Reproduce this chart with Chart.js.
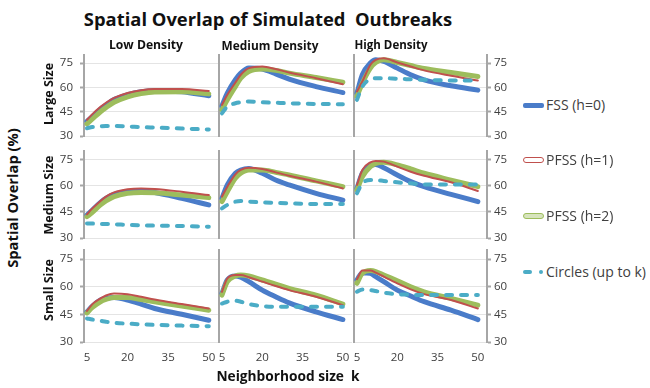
<!DOCTYPE html>
<html>
<head>
<meta charset="utf-8">
<script src="https://cdn.jsdelivr.net/npm/chart.js@4.4.1/dist/chart.umd.min.js"></script>
<style>
  body { margin: 0; background: #fff; }
  #wrap { position: relative; width: 650px; height: 388px; overflow: hidden; font-family: 'Open Sans', sans-serif; }
  #wrap canvas { position: absolute; }
  .txt { position: absolute; white-space: pre; line-height: 1.2; }
  .swatch { position: absolute; box-sizing: border-box; }
</style>
</head>
<body>
<div id="wrap"></div>
<script>
// neighborhood size k and ticks
const kValues = [5, 7, 10, 12, 15, 20, 25, 30, 40, 50];
const xTicks = [5, 20, 35, 50];
const yTicks = [30, 45, 60, 75];
const densities = ['Low Density', 'Medium Density', 'High Density'];
const sizes = ['Large Size', 'Medium Size', 'Small Size'];
const seriesNames = ['FSS (h=0)', 'PFSS (h=1)', 'PFSS (h=2)', 'Circles (up to k)'];

// each array: [low, medium, high density]
const fssLarge = [
  [39, 42, 46.5, 49, 52.5, 55.5, 57.3, 58, 57.3, 54.8],
  [48.6, 56.4, 64.7, 68.8, 71.9, 71.3, 68.4, 65.1, 60.5, 56.8],
  [56.4, 67.8, 75, 77, 76, 71.9, 67.8, 64.7, 61, 58.3]
];
const pfss1Large = [
  [40, 43.5, 48, 50.5, 53.5, 56.5, 58.3, 59, 59, 57.8],
  [49.2, 55.4, 63, 67.8, 71.9, 72.9, 71.3, 69.2, 65.7, 62],
  [57.5, 63.6, 74, 77, 78, 75.4, 72.9, 70.5, 67.2, 64.3]
];
const pfss2Large = [
  [37.5, 40.5, 45, 47.5, 50.8, 54.2, 56.2, 57.2, 57.3, 56],
  [46.1, 52.3, 60.5, 65.7, 69.8, 71.3, 70.5, 68.8, 66.1, 63.2],
  [54.4, 62.6, 71.9, 75.4, 77, 75.4, 73.5, 71.7, 69.2, 66.7]
];
const circlesLarge = [
  [34.8, 35.5, 36, 36.2, 36.2, 35.9, 35.5, 35.2, 34.6, 34],
  [44, 48.2, 50.2, 50.8, 51.3, 50.8, 50.5, 50.2, 49.8, 49.6],
  [52.3, 60.5, 65.1, 65.7, 65.7, 65.3, 65, 64.7, 64.3, 64.3]
];

const fssMedium = [
  [43.2, 46.1, 50.5, 52.8, 55.1, 56.6, 57, 56.2, 52.8, 49],
  [52.8, 60.5, 67.2, 69.1, 70, 67.2, 63.3, 60.5, 55.7, 51.8],
  [58.5, 67.2, 71.6, 72.3, 70.4, 66.2, 62.4, 59.5, 55.1, 50.9]
];
const pfss1Medium = [
  [43.6, 47, 51.3, 53.8, 56.2, 58, 58.5, 58.2, 56.6, 54.7],
  [53.8, 59.5, 66.6, 69.1, 70.4, 69.7, 67.7, 65.8, 62.4, 58.5],
  [60.5, 69.1, 73.5, 74.3, 73.9, 71, 68.1, 65.8, 62, 57]
];
const pfss2Medium = [
  [42.3, 44.8, 49, 51.3, 53.8, 55.7, 56.2, 56, 54.7, 53.2],
  [50.9, 56.6, 64.3, 67.2, 69.1, 69.1, 67.7, 66.2, 62.8, 59.5],
  [57.6, 65.2, 71, 72.9, 73.5, 72, 69.7, 67.2, 63.3, 59.5]
];
const circlesMedium = [
  [38.4, 38.3, 38, 38, 37.9, 37.5, 37.3, 37.1, 36.9, 36.5],
  [47, 49, 50.9, 51.3, 50.9, 50.5, 50.2, 49.9, 49.5, 49.5],
  [55.7, 61.4, 63.3, 63.3, 62.8, 62, 61.4, 60.8, 60.8, 60.8]
];

const fssSmall = [
  [46.4, 49.5, 52.8, 53.7, 54.2, 52.8, 50.6, 48.2, 45.1, 41.8],
  [56.4, 63.7, 65.9, 65.2, 62.8, 58.2, 54.6, 51.3, 46.4, 42.2],
  [63.7, 67.7, 67.3, 65.5, 62.8, 58.2, 55, 51.9, 47.3, 42.2]
];
const pfss1Small = [
  [46.9, 50.6, 53.7, 55.3, 56.4, 56, 54.6, 53.1, 50.6, 48.2],
  [57.3, 64.6, 66.4, 66.4, 65.2, 62.8, 60.4, 58.2, 54.6, 50],
  [64.1, 68.8, 68.8, 67.7, 65.5, 61.9, 58.6, 56, 52.8, 48.2]
];
const pfss2Small = [
  [45.8, 48.8, 51.9, 53.1, 54.2, 54.2, 53.1, 51.9, 49.5, 47.3],
  [55.5, 62.8, 65.9, 66.4, 65.9, 63.7, 61.5, 59.1, 55.5, 50.6],
  [61.9, 67.3, 68.8, 68.3, 66.4, 63.3, 60, 57.3, 53.7, 50]
];
const circlesSmall = [
  [42.8, 42.2, 41.5, 41, 40.4, 40, 39.6, 39.3, 38.9, 38.6],
  [50.9, 51.9, 52.4, 51.9, 50.6, 49.5, 49.1, 49.1, 49.1, 49.1],
  [57.3, 58.6, 58.2, 57.7, 56.8, 56, 55.7, 55.5, 55.5, 55.5]
];

const rowsData = [
  [fssLarge, pfss1Large, pfss2Large, circlesLarge],
  [fssMedium, pfss1Medium, pfss2Medium, circlesMedium],
  [fssSmall, pfss1Small, pfss2Small, circlesSmall]
];

// styles
const colors = ['#4A7CC9', '#C0504D', '#9DBD5C', '#4BACC6'];
const widths = [5, 2, 5, 4];
const orders = [4, 2, 3, 1];
const axisGray = '#a6a6a6';
const gridGray = '#e4e4e4';
const tickColor = '#404040';

// panel geometry (plot area in page pixels)
const colLeft = [84, 219, 354];
const colWidth = [134, 133, 133];
const rowTop = [55, 151, 250];
const rowHeight = [81, 87, 92];

Chart.defaults.font.family = "'Open Sans', sans-serif";
Chart.defaults.font.size = 11.5;
Chart.defaults.color = tickColor;

const wrap = document.getElementById('wrap');
const setTicks = (vals) => (axis) => { axis.ticks = vals.map(v => ({ value: v })); };
const noPad = (s) => { s.paddingLeft = 0; s.paddingRight = 0; s.paddingTop = 0; s.paddingBottom = 0; };

for (let r = 0; r < 3; r++) {
  for (let c = 0; c < 3; c++) {
    const leftW = c === 0 ? 30 : 1;
    const rightW = c === 2 ? 26 : 0;
    const padTop = 8;
    const bottomH = r === 2 ? 28 : 8;
    const cv = document.createElement('canvas');
    cv.width = leftW + colWidth[c] + rightW;
    cv.height = padTop + rowHeight[r] + bottomH;
    cv.style.left = (colLeft[c] - leftW) + 'px';
    cv.style.top = (rowTop[r] - padTop) + 'px';
    wrap.appendChild(cv);

    const datasets = rowsData[r].map((series, s) => ({
      label: seriesNames[s],
      data: kValues.map((k, i) => ({ x: k, y: series[c][i] })),
      borderColor: colors[s],
      borderWidth: widths[s],
      borderDash: s === 3 ? [6, 9] : [],
      borderCapStyle: 'round',
      borderJoinStyle: 'round',
      cubicInterpolationMode: 'monotone',
      pointRadius: 0,
      order: orders[s]
    }));

    const scales = {
      x: {
        type: 'linear', min: 3.9, max: 53.4,
        display: r === 2,
        afterBuildTicks: setTicks(xTicks),
        grid: { display: false, drawTicks: false },
        border: { display: false },
        ticks: { autoSkip: false, maxRotation: 0, padding: 9 },
        afterFit: (s) => { s.height = r === 2 ? 28 : 0; noPad(s); }
      },
      y: {
        type: 'linear', min: 30, max: 80,
        afterBuildTicks: setTicks(yTicks),
        grid: { color: gridGray, lineWidth: 1, drawTicks: c === 0, tickLength: 4, tickColor: axisGray, tickWidth: 2 },
        border: { color: axisGray, width: 2 },
        ticks: { display: c === 0, padding: 7, autoSkip: false },
        afterFit: (s) => { s.width = leftW; noPad(s); }
      }
    };
    if (c === 2) {
      scales.y2 = {
        type: 'linear', position: 'right', min: 30, max: 80,
        afterBuildTicks: setTicks(yTicks),
        grid: { drawOnChartArea: false, drawTicks: true, tickLength: 4, tickColor: axisGray, tickWidth: 2 },
        border: { color: axisGray, width: 2 },
        ticks: { padding: 3, autoSkip: false },
        afterFit: (s) => { s.width = rightW; noPad(s); }
      };
    }

    new Chart(cv, {
      type: 'line',
      data: { datasets },
      options: {
        responsive: false,
        animation: false,
        layout: { padding: { top: padTop, bottom: r === 2 ? 0 : 8, left: 0, right: 0 } },
        plugins: { legend: { display: false }, tooltip: { enabled: false } },
        scales
      }
    });
  }
}

// text labels
function addText(str, cx, cy, size, weight, color, targetW, rotate) {
  const d = document.createElement('div');
  d.className = 'txt';
  d.textContent = str;
  d.style.fontSize = size + 'px';
  d.style.fontWeight = weight;
  d.style.color = color;
  wrap.appendChild(d);
  if (targetW) {
    d.style.fontSize = (size * targetW / d.offsetWidth) + 'px';
  }
  d.style.left = cx + 'px';
  d.style.top = cy + 'px';
  d.style.transform = 'translate(-50%, -50%)' + (rotate ? ' rotate(-90deg)' : '');
  return d;
}

addText('Spatial Overlap of Simulated  Outbreaks', 268, 19, 17, 700, '#111', 369);
const headerX = [146, 270, 391];
const headerW = [74, 97, 73];
densities.forEach((t, i) => addText(t, headerX[i], 45, 12, 700, '#111', headerW[i]));
addText('Spatial Overlap (%)', 13, 198, 14, 700, '#111', 140, true);
const sizeY = [94, 195, 290];
sizes.forEach((t, i) => addText(t, 48, sizeY[i], 12.5, 700, '#111', 0, true));
addText('Neighborhood size  k', 288, 376, 14, 700, '#111', 143);

// legend
const legendY = [105, 160, 216, 272];
function swatch(x, y, w, h, bg, border, radius) {
  const d = document.createElement('div');
  d.className = 'swatch';
  d.style.left = x + 'px';
  d.style.top = (y - h / 2) + 'px';
  d.style.width = w + 'px';
  d.style.height = h + 'px';
  d.style.background = bg;
  if (border) d.style.border = border;
  d.style.borderRadius = radius + 'px';
  wrap.appendChild(d);
}
swatch(523, legendY[0], 21, 5, colors[0], null, 2);
swatch(523, legendY[1], 21, 6, '#fff', '1.5px solid ' + colors[1], 3);
swatch(523, legendY[2], 21, 6, '#d7e4bd', '1.5px solid ' + colors[2], 3);
swatch(523, legendY[3], 9, 4, colors[3], null, 2);
swatch(539, legendY[3], 4, 4, colors[3], null, 2);
seriesNames.forEach((t, i) => {
  const d = addText(t, 0, legendY[i], 14, 400, '#404040', 0);
  d.style.left = '546px';
  d.style.transform = 'translate(0, -50%)';
});
</script>
</body>
</html>
